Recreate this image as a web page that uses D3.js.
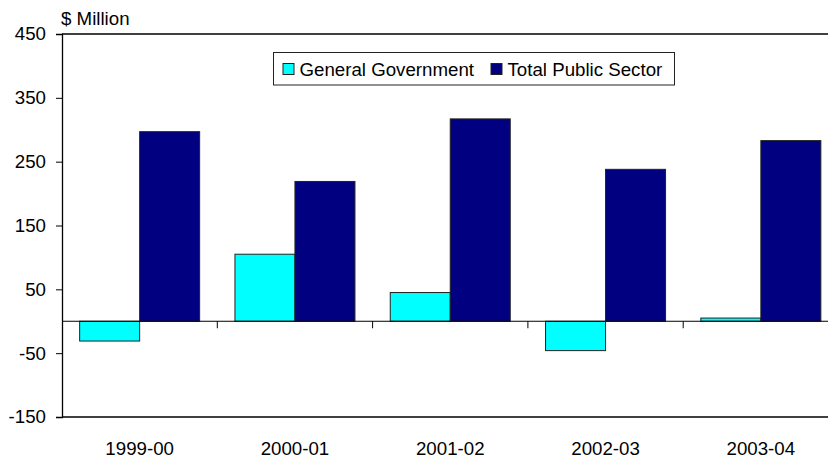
<!DOCTYPE html>
<html>
<head>
<meta charset="utf-8">
<script src="https://cdn.jsdelivr.net/npm/d3@7"></script>
<style>
  html, body { margin: 0; padding: 0; background: #fff; }
  svg { display: block; font-family: "Liberation Sans", Arial, sans-serif; }
</style>
</head>
<body>
<svg id="chart" width="828" height="464"></svg>
<script>
// Budget results by year, $ million
const years = ["1999-00", "2000-01", "2001-02", "2002-03", "2003-04"];
const seriesNames = ["General Government", "Total Public Sector"];
const generalGovernment = [-31, 105, 45, -46, 5];
const totalPublicSector = [297, 219, 317, 238, 283];
const yTicks = [450, 350, 250, 150, 50, -50, -150];
const colors = ["#00FFFF", "#000080"];

const rows = years.map((yr, i) => ({
  year: yr,
  values: [generalGovernment[i], totalPublicSector[i]]
}));

const svg = d3.select("#chart");
const plotLeft = 62, plotTop = 34, plotBottom = 417, plotRight = 838.5;
const fontSize = 18.7;

const y = d3.scaleLinear().domain([-150, 450]).range([plotBottom, plotTop]);
const p = 35.3 / 155.3;
const x = d3.scaleBand().domain(years).range([plotLeft, plotRight])
  .paddingInner(p).paddingOuter(p / 2);
const xs = d3.scaleBand().domain([0, 1]).range([0, x.bandwidth()]);

// Plot frame: top and bottom edges
svg.append("line").attr("x1", plotLeft).attr("x2", 828).attr("y1", plotTop).attr("y2", plotTop)
  .attr("stroke", "#000").attr("stroke-width", 1.3);
svg.append("line").attr("x1", plotLeft).attr("x2", 828).attr("y1", plotBottom).attr("y2", plotBottom)
  .attr("stroke", "#000").attr("stroke-width", 1.3);

// Bars
const g = svg.append("g");
rows.forEach(r => {
  r.values.forEach((v, k) => {
    g.append("rect")
      .attr("x", x(r.year) + xs(k))
      .attr("width", xs.bandwidth())
      .attr("y", y(Math.max(0, v)))
      .attr("height", Math.abs(y(v) - y(0)))
      .attr("fill", colors[k])
      .attr("stroke", "#222")
      .attr("stroke-width", 1);
  });
});

// Zero line with category ticks
const step = x.step();
const xAxisBase = d3.scaleLinear().domain([0, 5]).range([plotLeft, plotLeft + 5 * step]);
svg.append("line").attr("x1", plotLeft).attr("x2", 828).attr("y1", y(0)).attr("y2", y(0))
  .attr("stroke", "#000").attr("stroke-width", 1);
d3.range(1, 5).forEach(i => {
  svg.append("line").attr("x1", xAxisBase(i)).attr("x2", xAxisBase(i))
    .attr("y1", y(0)).attr("y2", y(0) + 7)
    .attr("stroke", "#000").attr("stroke-width", 1);
});

// Category labels
svg.append("g").selectAll("text").data(years).join("text")
  .attr("x", d => x(d) + x.bandwidth() / 2)
  .attr("y", 455)
  .attr("text-anchor", "middle")
  .attr("font-size", fontSize)
  .attr("fill", "#000")
  .text(d => d);

// Value axis (plain hyphen for negatives)
const yAxis = d3.axisLeft(y).tickValues(yTicks).tickSize(6).tickPadding(10)
  .tickFormat(d => String(d));
const ya = svg.append("g").attr("transform", `translate(${plotLeft},0)`).call(yAxis);
ya.select(".domain").attr("stroke", "#000").attr("stroke-width", 1.3);
ya.selectAll(".tick line").attr("stroke", "#000");
ya.selectAll(".tick text").attr("font-size", fontSize).attr("fill", "#000")
  .attr("font-family", "Liberation Sans, Arial, sans-serif");

// Unit label
svg.append("text").attr("x", 61).attr("y", 25).attr("font-size", fontSize).attr("fill", "#000").text("$ Million");

// Legend
const lg = svg.append("g");
lg.append("rect").attr("x", 273.5).attr("y", 52.5).attr("width", 401).attr("height", 32.5)
  .attr("fill", "#fff").attr("stroke", "#222").attr("stroke-width", 1);
const legendX = [283, 491];
seriesNames.forEach((n, k) => {
  lg.append("rect").attr("x", legendX[k]).attr("y", 63.5).attr("width", 11).attr("height", 11)
    .attr("fill", colors[k]).attr("stroke", "#222").attr("stroke-width", 1);
  lg.append("text").attr("x", legendX[k] + 16.5).attr("y", 75.5)
    .attr("font-size", fontSize).attr("fill", "#000").text(n);
});
</script>
</body>
</html>
